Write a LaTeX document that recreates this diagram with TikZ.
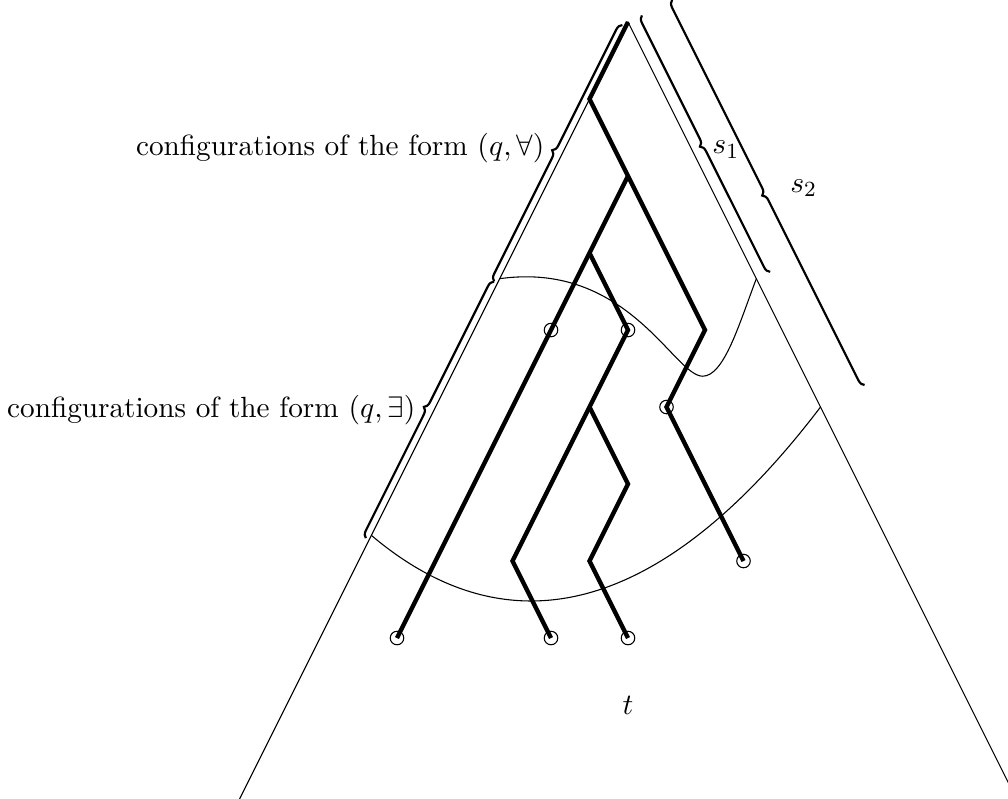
\documentclass[tikz,border=0pt]{standalone}
\usetikzlibrary{decorations.pathreplacing}
\begin{document}
\begin{tikzpicture}[
  font=\fontsize{10.8}{13.4}\selectfont,
  edge/.style={line width=0.4pt},
  run/.style={line width=1.6pt},
  leaf/.style={circle, draw, line width=0.4pt, inner sep=0pt, minimum size=5pt},
  br/.style={decorate, decoration={brace, amplitude=2.5pt}, line width=0.8pt},
  lab/.style={inner sep=0pt},
]
\useasboundingbox (-8.156,-10.078) rectangle (4.935,0.286);
% tree outline
\coordinate (top) at (0,0);
\coordinate (bl) at (-5.1,-10.2);
\coordinate (brr) at (5.1,-10.2);
\draw[edge] (bl) -- (top) -- (brr);
% points on the sides
\coordinate (L1) at (-5/3,-10/3);
\coordinate (L2) at (-10/3,-20/3);
\coordinate (R1) at (5/3,-10/3);
\coordinate (R2) at (2.5,-5);
% frontier curves
\draw[edge] (L1) .. controls (0,-3.1) and (0.6,-4.6) .. (0.97,-4.6) coordinate (m)
  .. controls (1.25,-4.6) and (1.45,-3.9) .. (R1);
\draw[edge] (L2) .. controls (-1.4,-8.3) and (0.6,-7.5) .. (R2);
% branching points
\coordinate (a) at (-0.5,-1);
\coordinate (b) at (1,-4);
\coordinate (c) at (0,-2);
\coordinate (d) at (-0.5,-3);
\coordinate (e) at (-1.5,-7);
\coordinate (f) at (-0.5,-5);
\coordinate (g) at (0,-6);
\coordinate (h) at (-0.5,-7);
% circled configurations
\node[leaf] (c1) at (-1,-4) {};
\node[leaf] (c2) at (0,-4) {};
\node[leaf] (c3) at (0.5,-5) {};
\node[leaf] (c4) at (1.5,-7) {};
\node[leaf] (c5) at (-3,-8) {};
\node[leaf] (c6) at (-1,-8) {};
\node[leaf] (c7) at (0,-8) {};
% runs
\draw[run] (top) -- (a) -- (b) -- (c3.center) -- (c4.center);
\draw[run] (c) -- (c1.center) -- (c5.center);
\draw[run] (d) -- (c2.center) -- (e) -- (c6.center);
\draw[run] (f) -- (g) -- (h) -- (c7.center);
% braces
\draw[br] (-1.739,-3.369) -- (-0.072,-0.036);
\draw[br] (-3.405,-6.703) -- (-1.739,-3.369);
\draw[br] (1.846,-3.244) -- (0.179,0.089);
\draw[br] (3.072,-4.714) -- (0.572,0.286);
% labels
\node[lab, anchor=east] (lA) at (-1.078,-1.64) {configurations of the form $(q,\forall)$};
\node[lab, anchor=east] (lE) at (-2.753,-5.04) {configurations of the form $(q,\exists)$};
\node[lab, anchor=west] (s1) at (1.09,-1.66) {$s_1$};
\node[lab, anchor=west] (s2) at (2.10,-2.16) {$s_2$};
\node (t) at (0,-8.87) {$t$};
\end{tikzpicture}
\end{document}
